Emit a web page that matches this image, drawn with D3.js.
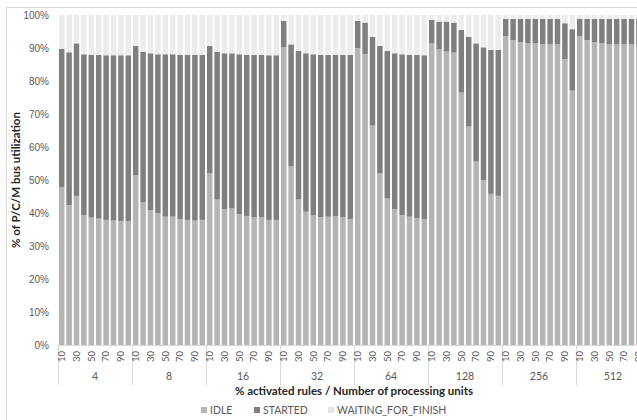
<!DOCTYPE html>
<html lang="en">
<head>
<meta charset="UTF-8">
<script src="https://cdnjs.cloudflare.com/ajax/libs/d3/7.8.5/d3.min.js"></script>
<style>
    body { margin: 0; background: #fff; }
    svg { display: block; overflow: hidden; font-family: Lato, "Open Sans", sans-serif; }
</style>
</head>
<body>
<svg id="chart" width="637" height="420"></svg>
<script>
    // processing units (outer groups) and % activated rules (bars in a group)
    var groups = ["4", "8", "16", "32", "64", "128", "256", "512"];
    var rules = ["10", "20", "30", "40", "50", "60", "70", "80", "90", "100"];
    var yTicks = [0, .1, .2, .3, .4, .5, .6, .7, .8, .9, 1];

    // values in %, one row per group
    var idle = [
        [47.8, 42.4, 45.2, 39.4, 38.6, 38.3, 37.9, 37.7, 37.6, 37.5],
        [51.5, 43.2, 40.9, 39.9, 38.9, 38.9, 38.1, 37.9, 37.7, 37.9],
        [52.0, 44.1, 41.1, 41.4, 39.6, 39.1, 38.7, 38.8, 37.9, 37.9],
        [90.2, 54.2, 44.1, 40.4, 39.4, 38.7, 38.9, 39.1, 38.7, 38.2],
        [89.9, 88.2, 66.5, 52.0, 44.4, 41.1, 39.4, 38.9, 38.4, 38.2],
        [91.4, 89.6, 88.9, 88.6, 76.5, 66.2, 55.6, 50.0, 45.8, 45.2],
        [93.6, 92.4, 91.7, 91.4, 91.4, 91.2, 91.2, 91.1, 86.6, 77.1],
        [93.6, 92.4, 91.7, 91.4, 91.2, 91.2, 91.1, 91.1, 91.0, 91.0]
    ];
    var started = [
        [41.9, 46.3, 46.2, 48.7, 49.3, 49.6, 49.9, 50.1, 50.2, 50.3],
        [39.1, 45.7, 47.5, 48.2, 49.2, 49.2, 49.8, 50.0, 50.2, 50.0],
        [38.6, 44.8, 47.3, 47.0, 48.5, 48.8, 49.2, 49.1, 49.9, 49.9],
        [8.0, 36.9, 45.0, 48.0, 48.7, 49.2, 49.0, 48.8, 49.2, 49.7],
        [8.3, 9.5, 26.9, 38.6, 44.7, 47.3, 48.7, 49.0, 49.5, 49.6],
        [7.1, 8.4, 9.1, 9.1, 19.0, 27.2, 35.8, 40.2, 43.6, 44.2],
        [5.2, 6.4, 7.1, 7.4, 7.4, 7.6, 7.6, 7.7, 10.9, 18.6],
        [5.2, 6.4, 7.1, 7.4, 7.6, 7.6, 7.7, 7.7, 7.8, 7.8]
    ];
    var waiting = [
        [10.3, 11.3, 8.6, 11.9, 12.1, 12.1, 12.2, 12.2, 12.2, 12.2],
        [9.4, 11.1, 11.6, 11.9, 11.9, 11.9, 12.1, 12.1, 12.1, 12.1],
        [9.4, 11.1, 11.6, 11.6, 11.9, 12.1, 12.1, 12.1, 12.2, 12.2],
        [1.8, 8.9, 10.9, 11.6, 11.9, 12.1, 12.1, 12.1, 12.1, 12.1],
        [1.8, 2.3, 6.6, 9.4, 10.9, 11.6, 11.9, 12.1, 12.1, 12.2],
        [1.5, 2.0, 2.0, 2.3, 4.5, 6.6, 8.6, 9.8, 10.6, 10.6],
        [1.2, 1.2, 1.2, 1.2, 1.2, 1.2, 1.2, 1.2, 2.5, 4.3],
        [1.2, 1.2, 1.2, 1.2, 1.2, 1.2, 1.2, 1.2, 1.2, 1.2]
    ];

    var keys = ["IDLE", "STARTED", "WAITING_FOR_FINISH"];
    var colors = {IDLE: "#b4b4b4", STARTED: "#7f7f7f", WAITING_FOR_FINISH: "#ececec"};

    var rows = [];
    groups.forEach(function (g, gi) {
        rules.forEach(function (r, ri) {
            rows.push({group: g, rule: r,
                IDLE: idle[gi][ri] / 100,
                STARTED: started[gi][ri] / 100,
                WAITING_FOR_FINISH: waiting[gi][ri] / 100});
        });
    });

    var svg = d3.select("#chart");
    var plotLeft = 58, groupW = 74, plotTop = 15, plotBottom = 345;

    // chart frame (the picture is cropped on the right)
    svg.append("rect")
        .attr("x", 6.5).attr("y", 7.5)
        .attr("width", 700).attr("height", 500)
        .attr("fill", "none").attr("stroke", "#d9d9d9");

    var x0 = d3.scaleBand().domain(groups).range([plotLeft, plotLeft + groupW * groups.length]);
    var x1 = d3.scaleBand().domain(rules).range([0, x0.bandwidth()]).paddingInner(0.26).paddingOuter(0.13);
    var y = d3.scaleLinear().domain([0, 1]).range([plotBottom, plotTop]);

    var stack = d3.stack().keys(keys);
    var series = stack(rows);

    svg.append("g").selectAll("g")
        .data(series)
        .enter().append("g")
        .attr("fill", function (d) { return colors[d.key]; })
        .selectAll("rect")
        .data(function (d) { return d; })
        .enter().append("rect")
        .attr("x", function (d) { return x0(d.data.group) + x1(d.data.rule); })
        .attr("width", x1.bandwidth())
        .attr("y", function (d) { return y(Math.min(d[1], 1)); })
        .attr("height", function (d) { return y(d[0]) - y(Math.min(d[1], 1)); });

    // y axis
    var yAxis = svg.append("g")
        .attr("transform", "translate(" + plotLeft + ",0)")
        .call(d3.axisLeft(y).tickValues(yTicks).tickFormat(d3.format(".0%")).tickSize(0).tickPadding(9));
    yAxis.select(".domain").remove();
    yAxis.selectAll("text").attr("fill", "#595959").style("font-size", "10px");

    // x axis line
    svg.append("line")
        .attr("x1", plotLeft).attr("x2", plotLeft + groupW * groups.length)
        .attr("y1", plotBottom + .5).attr("y2", plotBottom + .5)
        .attr("stroke", "#d9d9d9");

    // group separators
    svg.append("g").selectAll("line")
        .data(groups)
        .enter().append("line")
        .attr("x1", function (d) { return x0(d) + .5; })
        .attr("x2", function (d) { return x0(d) + .5; })
        .attr("y1", plotBottom).attr("y2", 385)
        .attr("stroke", "#d9d9d9");

    // rule labels, every other one as in the original
    svg.append("g").selectAll("text")
        .data(rows.filter(function (d, i) { return i % 2 === 0; }))
        .enter().append("text")
        .attr("transform", function (d) {
            var cx = x0(d.group) + x1(d.rule) + x1.bandwidth() / 2;
            return "translate(" + cx + ",351) rotate(-90)";
        })
        .attr("text-anchor", "end")
        .attr("dy", "0.35em")
        .attr("fill", "#595959")
        .style("font-size", "9.5px")
        .text(function (d) { return d.rule; });

    // group labels
    svg.append("g").selectAll("text")
        .data(groups)
        .enter().append("text")
        .attr("x", function (d) { return x0(d) + x0.bandwidth() / 2; })
        .attr("y", 380)
        .attr("text-anchor", "middle")
        .attr("fill", "#595959")
        .style("font-size", "10.5px")
        .text(function (d) { return d; });

    // axis titles
    svg.append("text")
        .attr("x", 354).attr("y", 395)
        .attr("text-anchor", "middle")
        .attr("fill", "#262626")
        .style("font-size", "11.5px").style("font-weight", "bold")
        .text("% activated rules / Number of processing units");

    svg.append("text")
        .attr("transform", "translate(20,180) rotate(-90)")
        .attr("text-anchor", "middle")
        .attr("fill", "#262626")
        .style("font-size", "11.5px").style("font-weight", "bold")
        .text("% of P/C/M bus utilization");

    // legend
    var legendX = [201, 254, 328];
    var legend = svg.append("g").selectAll("g")
        .data(keys)
        .enter().append("g")
        .attr("transform", function (d, i) { return "translate(" + legendX[i] + ",410)"; });
    legend.append("rect")
        .attr("x", 0).attr("y", -3)
        .attr("width", 6).attr("height", 6)
        .attr("fill", function (d) { return colors[d] === "#ececec" ? "#e4e4e4" : colors[d]; });
    legend.append("text")
        .attr("x", 9).attr("dy", "0.35em")
        .attr("fill", "#595959")
        .style("font-size", "10.5px")
        .text(function (d) { return d; });
</script>
</body>
</html>
